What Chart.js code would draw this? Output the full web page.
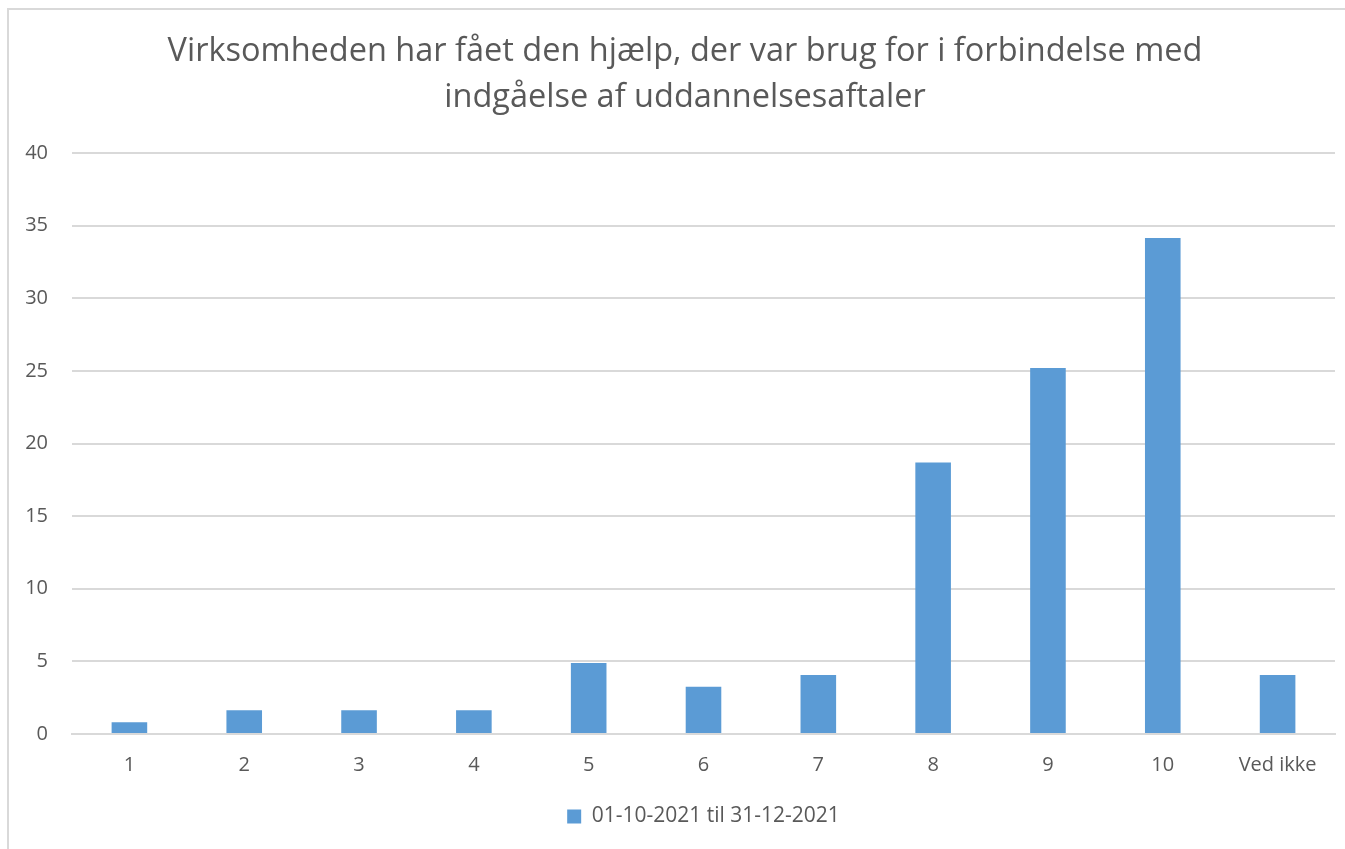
<!DOCTYPE html>
<html>
<head>
<meta charset="utf-8">
<script src="https://cdn.jsdelivr.net/npm/chart.js@4/dist/chart.umd.min.js"></script>
<style>
  body { margin: 0; background: #fff; }
  #wrap { position: relative; width: 1345px; height: 849px; }
  #frame { position: absolute; left: 7px; top: 8px; right: -5px; bottom: -5px; border-left: 2px solid #d9d9d9; border-top: 2px solid #d9d9d9; }
  canvas { position: absolute; left: 0; top: 0; }
</style>
</head>
<body>
<div id="wrap">
  <div id="frame"></div>
  <canvas id="chart" width="1345" height="849"></canvas>
</div>
<script>
// data (percent of answers)
const categories = ['1', '2', '3', '4', '5', '6', '7', '8', '9', '10', 'Ved ikke'];
const values = [0.81, 1.63, 1.63, 1.63, 4.88, 3.25, 4.07, 18.7, 25.2, 34.15, 4.07];
const seriesName = '01-10-2021 til 31-12-2021';
const titleLines = ['Virksomheden har fået den hjælp, der var brug for i forbindelse med', 'indgåelse af uddannelsesaftaler'];

const textColor = '#595959';
const gridColor = '#d9d9d9';
const font = "'Open Sans', 'Liberation Sans', sans-serif";

// the title in the original sits a bit right of the canvas centre, so draw it ourselves
const titlePlugin = {
  id: 'offsetTitle',
  afterDraw(chart) {
    const c = chart.ctx;
    c.save();
    c.font = `32.5px ${font}`;
    c.fillStyle = textColor;
    c.textAlign = 'center';
    c.textBaseline = 'middle';
    titleLines.forEach((t, i) => c.fillText(t, 685, 52 + i * 46));
    c.restore();
  }
};

const ctx = document.getElementById('chart').getContext('2d');
new Chart(ctx, {
  type: 'bar',
  data: {
    labels: categories,
    datasets: [{ label: seriesName, data: values, backgroundColor: '#5b9bd5', borderWidth: 0, categoryPercentage: 1, barPercentage: 0.31 }]
  },
  plugins: [titlePlugin],
  options: {
    responsive: false,
    animation: false,
    layout: { padding: { top: 153, right: 10, bottom: 12, left: 0 } },
    plugins: {
      title: { display: false },
      legend: {
        position: 'bottom',
        fullSize: false,
        labels: { color: textColor, font: { family: font, size: 21 }, boxWidth: 14, boxHeight: 14, padding: 12 }
      },
      tooltip: { enabled: false }
    },
    scales: {
      x: {
        afterFit: s => { s.height = 60; },
        grid: { display: false, drawTicks: false },
        border: { display: true, color: gridColor, width: 2 },
        ticks: { color: textColor, font: { family: font, size: 20 }, padding: 19, maxRotation: 0 }
      },
      y: {
        min: 0, max: 40,
        afterFit: s => { s.width = 72; },
        grid: { color: gridColor, lineWidth: 2, drawTicks: false },
        border: { display: false },
        ticks: { stepSize: 5, color: textColor, font: { family: font, size: 20 }, padding: 24 }
      }
    }
  }
});
</script>
</body>
</html>
